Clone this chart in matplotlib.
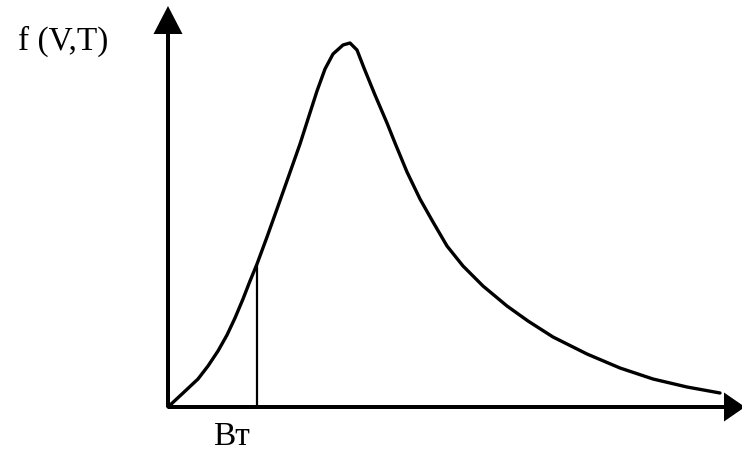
import numpy as np
import matplotlib
matplotlib.use("Agg")
import matplotlib.pyplot as plt

#curve f(V,T) (speed v, value f)
v = [0, 14, 30, 40, 50, 59, 67, 75, 82, 89, 99, 109, 120, 132, 140, 149, 157, 165,
     175, 182, 189, 196, 207, 219, 227, 239, 252, 265, 279, 295, 315, 339, 360,
     385, 419, 452, 485, 519, 552]
f = [0, 13, 28, 41, 56, 72, 89, 108, 126, 143, 170, 198, 229, 263, 288, 316, 338, 353,
     362, 364, 357, 339, 312, 284, 264, 235, 208, 185, 161, 141, 121, 101, 86,
     70, 53, 39, 28, 20, 14]

#marked speed and its height on the curve
v_mark = 89
f_mark = 141

y_label = "f (V,T)"
x_label = "Вт"

fig = plt.figure(figsize=(7.42, 4.52), dpi=100)
ax = fig.add_axes([0, 0, 1, 1])
ax.set_xlim(-168, 574)
ax.set_ylim(-44, 408)
ax.axis("off")

#axes with arrows
ax.arrow(0, 0, 0, 373, width=4, head_width=29, head_length=28,
         length_includes_head=False, color="black", lw=0)
ax.arrow(0, 0, 556, 0, width=4, head_width=29, head_length=21,
         length_includes_head=False, color="black", lw=0, clip_on=False)

ax.plot(v, f, color="black", lw=2.4, solid_capstyle="round", solid_joinstyle="round")
ax.plot([v_mark, v_mark], [0, f_mark], color="black", lw=1.6)

ax.text(-150, 358, y_label, fontsize=24, family="Liberation Serif", va="baseline", ha="left")
ax.text(45, -37, x_label, fontsize=24, family="Liberation Serif", va="baseline", ha="left")

plt.savefig("out.png", dpi=100)
